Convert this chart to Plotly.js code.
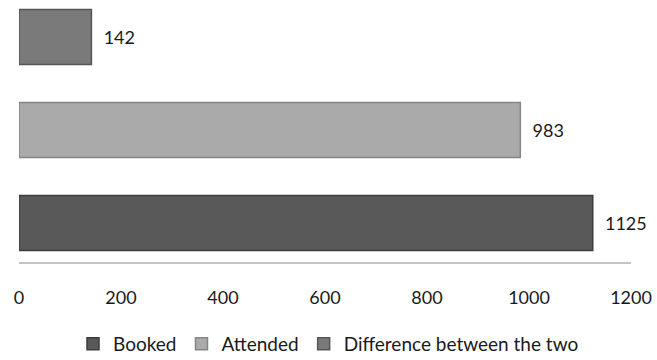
<!DOCTYPE html>
<html>
<head>
<meta charset="utf-8">
<script src="https://cdn.plot.ly/plotly-3.0.1.min.js"></script>
<style>html,body{margin:0;padding:0;background:#fff;}#chart{width:657px;height:360px;}</style>
</head>
<body>
<div id="chart"></div>
<script>
const category = ["Sessions"];
const seriesNames = ["Booked", "Attended", "Difference between the two"];
const bookedValues = [1125];
const attendedValues = [983];
const differenceValues = [142];
const tickValues = [0, 200, 400, 600, 800, 1000, 1200];

const fillColors = ["#595959", "#aaaaaa", "#7a7a7a"];
const edgeColors = ["#3c3c3c", "#858585", "#565656"];
const valueSets = [bookedValues, attendedValues, differenceValues];

const font = "Lato, 'Open Sans', 'Liberation Sans', sans-serif";

const data = valueSets.map((vals, i) => ({
  type: "bar",
  orientation: "h",
  name: seriesNames[i],
  x: vals,
  y: category,
  marker: {color: fillColors[i], line: {color: edgeColors[i], width: 1.5}},
  text: vals.map(v => String(v)),
  texttemplate: "\u00a0\u00a0%{text}",
  textposition: "outside",
  cliponaxis: false,
  textfont: {family: font, size: 18, color: "#1a1a1a"},
  hoverinfo: "skip"
}));

const layout = {
  width: 657, height: 360,
  margin: {l: 19, r: 26, t: 0, b: 98},
  paper_bgcolor: "#ffffff",
  plot_bgcolor: "#ffffff",
  barmode: "group",
  bargap: 0,
  bargroupgap: 0.41,
  showlegend: true,
  legend: {
    orientation: "h", x: 0.5, xanchor: "center", xref: "container",
    y: 0.045, yanchor: "middle", yref: "container",
    font: {family: font, size: 19, color: "#1a1a1a"},
    traceorder: "normal", itemwidth: 30, tracegroupgap: 0
  },
  xaxis: {
    range: [0, 1200],
    tickvals: tickValues,
    ticktext: tickValues.map(String),
    showgrid: false, zeroline: false,
    showline: true, linecolor: "#c4c4c4", linewidth: 2,
    ticks: "", ticklabelstandoff: 18,
    tickfont: {family: font, size: 18, color: "#1a1a1a"},
    fixedrange: true
  },
  yaxis: {
    type: "category",
    range: [-0.473, 0.466],
    showticklabels: false, showgrid: false, zeroline: false, showline: false,
    fixedrange: true
  },
  font: {family: font}
};

Plotly.newPlot("chart", data, layout, {displayModeBar: false, staticPlot: true});
</script>
</body>
</html>
